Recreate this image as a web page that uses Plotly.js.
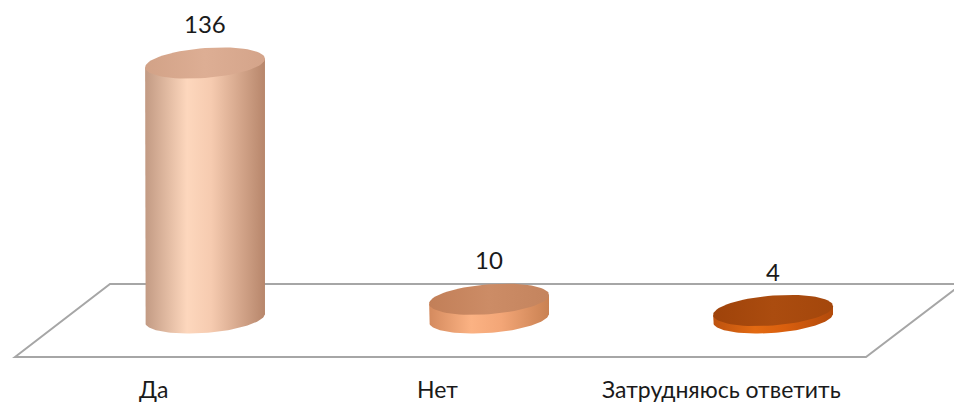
<!DOCTYPE html>
<html><head><meta charset="utf-8">
<script src="https://cdn.plot.ly/plotly-3.0.1.min.js"></script>
<style>html,body{margin:0;padding:0;background:#fff}#chart{width:954px;height:405px}</style>
</head><body><div id="chart"></div>
<script>
const categories = ['Да', 'Нет', 'Затрудняюсь ответить'];
const values = [136, 10, 4];
const valueLabels = ['136', '10', '4'];
const bodyScales = [
  [[0,'#c29a83'],[0.35,'#fdd7bd'],[0.55,'#f6cbb0'],[1,'#b7866b']],
  [[0,'#d48a5e'],[0.35,'#fbb283'],[0.6,'#f3a677'],[1,'#c98152']],
  [[0,'#bd520f'],[0.35,'#e36a12'],[0.6,'#d95f0e'],[1,'#b24a0b']]
];
const topScales = [
  [[0,'#d2a287'],[0.5,'#ddae94'],[1,'#d4a48a']],
  [[0,'#c27f58'],[0.5,'#cc8c66'],[1,'#c4845e']],
  [[0,'#9f430a'],[0.5,'#ab4c0f'],[1,'#a4470c']]
];

const rx = 0.211, ry = 8, k = 11, N = 72;
const traces = [];
const annotations = [];
const fontFam = 'Lato, "Open Sans", sans-serif';
values.forEach((v, i) => {
  const cx = i;
  const bx = [], by = [];
  bx.push(cx - rx); by.push(v - k * rx);
  for (let j = 0; j <= N; j++) {
    const t = Math.PI + Math.PI * j / N;
    const dx = rx * Math.cos(t);
    bx.push(cx + dx); by.push(ry * Math.sin(t) + k * dx);
  }
  bx.push(cx + rx); by.push(v + k * rx);
  bx.push(cx - rx); by.push(v - k * rx);
  traces.push({type:'scatter', x: bx, y: by, mode:'lines', fill:'toself',
    line:{width:0, color:'rgba(0,0,0,0)'},
    fillgradient:{type:'horizontal', colorscale: bodyScales[i]},
    hoverinfo:'skip', showlegend:false});
  const tx = [], ty = [];
  for (let j = 0; j <= N; j++) {
    const t = 2 * Math.PI * j / N;
    const dx = rx * Math.cos(t);
    tx.push(cx + dx); ty.push(v + ry * Math.sin(t) + k * dx);
  }
  traces.push({type:'scatter', x: tx, y: ty, mode:'lines', fill:'toself',
    line:{width:0, color:'rgba(0,0,0,0)'},
    fillgradient:{type:'horizontal', colorscale: topScales[i]},
    hoverinfo:'skip', showlegend:false});
  annotations.push({x: cx, y: v + ry, xref:'x', yref:'y', text: valueLabels[i],
    showarrow:false, yanchor:'bottom', yshift:8,
    font:{family: fontFam, size:24, color:'#1a1a1a'}});
  annotations.push({x: cx - 0.18, y: 0.0395, xref:'x', yref:'paper', text: categories[i],
    showarrow:false, yanchor:'middle',
    font:{family: fontFam, size:23, color:'#1a1a1a'}});
});

const W = 954, H = 405;
const px = (x) => x / W, py = (y) => 1 - y / H;
const floorPath = `M ${px(15)} ${py(357)} L ${px(110)} ${py(284)} L ${px(962)} ${py(284)} L ${px(866)} ${py(357)} Z`;

const layout = {
  width: W, height: H,
  margin:{l:0, r:0, t:0, b:0},
  paper_bgcolor:'#ffffff', plot_bgcolor:'#ffffff',
  xaxis:{range:[-0.722, 2.637], visible:false, fixedrange:true},
  yaxis:{range:[-46.4, 169.6], visible:false, fixedrange:true},
  shapes:[{type:'path', xref:'paper', yref:'paper', path: floorPath,
    line:{color:'#a6a6a6', width:2}, fillcolor:'rgba(0,0,0,0)', layer:'below'}],
  annotations: annotations
};
Plotly.newPlot('chart', traces, layout, {displayModeBar:false, staticPlot:true});
</script></body></html>
